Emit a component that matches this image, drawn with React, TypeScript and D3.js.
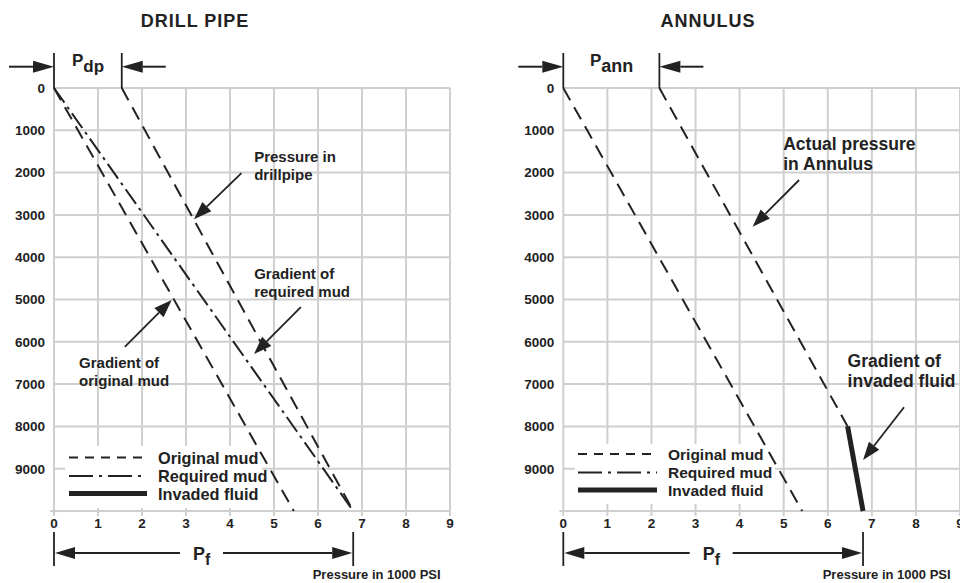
import React from 'react';
import * as d3 from 'd3';

// ---------- data ----------
const depthTicks = [0, 1000, 2000, 3000, 4000, 5000, 6000, 7000, 8000, 9000];
const depthMax = 10000;
const pressureTicks = [0, 1, 2, 3, 4, 5, 6, 7, 8, 9];
const legendLabels = ['Original mud', 'Required mud', 'Invaded fluid'];

// Drill pipe panel (pressure in 1000 psi, depth in ft)
const drillOriginalMud = [{ p: 0, d: 0 }, { p: 5.45, d: 10000 }];
const drillRequiredMud = [{ p: 0, d: 0 }, { p: 6.8, d: 10000 }];
const drillPipePressure = [{ p: 1.54, d: 0 }, { p: 6.8, d: 10000 }];
const drillSurface = 1.54; // Pdp
const drillBottom = 6.8; // Pf

// Annulus panel
const annOriginalMud = [{ p: 0, d: 0 }, { p: 5.42, d: 10000 }];
const annActualPressure = [{ p: 2.18, d: 0 }, { p: 6.45, d: 8000 }];
const annInvadedFluid = [{ p: 6.45, d: 8000 }, { p: 6.8, d: 10000 }];
const annSurface = 2.18; // Pann
const annBottom = 6.8; // Pf

// annotations: text lines at (p, d) baseline, arrow from (p,d) to tip (p,d)
const drillNotes = [
  { lines: ['Pressure in', 'drillpipe'], p: 4.55, d: 1760, from: [4.26, 2010], to: [3.18, 3100] },
  { lines: ['Gradient of', 'required mud'], p: 4.55, d: 4520, from: [5.61, 5180], to: [4.545, 6290] },
  { lines: ['Gradient of', 'original mud'], p: 0.57, d: 6630, from: [1.61, 6120], to: [2.675, 5010] },
];
const annNotes = [
  { lines: ['Actual pressure', 'in Annulus'], p: 4.99, d: 1466, from: [5.35, 2175], to: [4.295, 3280] },
  { lines: ['Gradient of', 'invaded fluid'], p: 6.45, d: 6590, from: [7.73, 7548], to: [6.8, 8794] },
];

const FONT = '"Liberation Sans", Arial, Helvetica, sans-serif';
const INK = '#222';
const GRID = '#cfcfcf';

const yScale = d3.scaleLinear().domain([0, depthMax]).range([88, 511]);

function head(tx: number, ty: number, fx: number, fy: number, L = 18, W = 6) {
  const a = Math.atan2(ty - fy, tx - fx);
  const bx = tx - L * Math.cos(a);
  const by = ty - L * Math.sin(a);
  const px = -Math.sin(a) * W;
  const py = Math.cos(a) * W;
  return { path: `M${tx},${ty}L${bx + px},${by + py}L${bx - px},${by - py}Z`, bx, by };
}

function Arrow({ x1, y1, x2, y2, L = 18, W = 6, sw = 2 }: any) {
  const h = head(x2, y2, x1, y1, L, W);
  return (
    <g>
      <line x1={x1} y1={y1} x2={h.bx} y2={h.by} stroke={INK} strokeWidth={sw} />
      <path d={h.path} fill={INK} />
    </g>
  );
}

type PanelProps = {
  xRange: [number, number];
  title: string;
  titleX: number;
  surfaceLabel: string;
  surfaceLabelDx: number;
  surfaceSubSize: number;
  surface: number;
  bottom: number;
  pfTextX: number;
  dashed: { p: number; d: number }[][];
  dashDot: { p: number; d: number }[][];
  solid: { p: number; d: number }[][];
  notes: any[];
  noteSize: number;
  noteLead: number;
  legendSize: number;
  legend: { x0: number; x1: number; tx: number; ys: number[]; tys: number[]; box: [number, number, number, number] };
  psiX: number;
};

function Panel(props: PanelProps) {
  const x = d3.scaleLinear().domain([0, 9]).range(props.xRange);
  const y = yScale;
  const line = d3
    .line<{ p: number; d: number }>()
    .x((v) => x(v.p))
    .y((v) => y(v.d));
  const x0 = x(0);
  const xs = x(props.surface);
  const xb = x(props.bottom);
  const lg = props.legend;
  return (
    <g fontFamily={FONT} fontWeight="bold" fill={INK}>
      <text x={props.titleX} y={27} textAnchor="middle" fontSize={18} letterSpacing={1}>
        {props.title}
      </text>
      {/* grid */}
      {pressureTicks.map((t) => (
        <line key={'v' + t} x1={x(t)} x2={x(t)} y1={y(0)} y2={y(depthMax) + 5} stroke={GRID} strokeWidth={2} />
      ))}
      {[...depthTicks, depthMax].map((t) => (
        <line key={'h' + t} x1={x(0) - (t === depthMax ? 4 : 0)} x2={x(9)} y1={y(t)} y2={y(t)} stroke={GRID} strokeWidth={2} />
      ))}
      {depthTicks.map((t) => (
        <text key={'yl' + t} x={x(0) - 9} y={y(t) + 4.8} textAnchor="end" fontSize={13.5}>
          {t}
        </text>
      ))}
      {pressureTicks.map((t) => (
        <text key={'xl' + t} x={x(t)} y={528} textAnchor="middle" fontSize={13.5}>
          {t}
        </text>
      ))}
      {/* legend box */}
      <rect x={lg.box[0]} y={lg.box[1]} width={lg.box[2]} height={lg.box[3]} fill="#fff" />
      {/* series */}
      {props.dashed.map((s, i) => (
        <path key={'d' + i} d={line(s) || ''} fill="none" stroke={INK} strokeWidth={2} strokeDasharray="14,8" />
      ))}
      {props.dashDot.map((s, i) => (
        <path key={'dd' + i} d={line(s) || ''} fill="none" stroke={INK} strokeWidth={2} strokeDasharray="18,5,3,5" />
      ))}
      {props.solid.map((s, i) => (
        <path key={'s' + i} d={line(s) || ''} fill="none" stroke={INK} strokeWidth={5} />
      ))}
      {/* legend */}
      <line x1={lg.x0} x2={lg.x1} y1={lg.ys[0]} y2={lg.ys[0]} stroke={INK} strokeWidth={2} strokeDasharray="9,7" />
      <line x1={lg.x0} x2={lg.x1} y1={lg.ys[1]} y2={lg.ys[1]} stroke={INK} strokeWidth={2} strokeDasharray="24,6,3,6" />
      <line x1={lg.x0} x2={lg.x1} y1={lg.ys[2]} y2={lg.ys[2]} stroke={INK} strokeWidth={5} />
      {legendLabels.map((l, i) => (
        <text key={l} x={lg.tx} y={lg.tys[i]} fontSize={props.legendSize}>
          {l}
        </text>
      ))}
      {/* annotations */}
      {props.notes.map((n, i) => (
        <g key={'n' + i}>
          {n.lines.map((l: string, j: number) => (
            <text key={j} x={x(n.p)} y={y(n.d) + j * props.noteLead} fontSize={props.noteSize}>
              {l}
            </text>
          ))}
          <Arrow x1={x(n.from[0])} y1={y(n.from[1])} x2={x(n.to[0])} y2={y(n.to[1])} L={18} W={6.5} sw={1.8} />
        </g>
      ))}
      {/* surface pressure marker */}
      <line x1={x0} x2={x0} y1={53} y2={y(0)} stroke={INK} strokeWidth={1.8} />
      <line x1={xs} x2={xs} y1={53} y2={y(0)} stroke={INK} strokeWidth={1.8} />
      <Arrow x1={x0 - 45} y1={66.7} x2={x0} y2={66.7} L={21} W={6} sw={2} />
      <Arrow x1={xs + 44} y1={66.7} x2={xs} y2={66.7} L={21} W={6} sw={2} />
      <text x={x0 + props.surfaceLabelDx} y={66} fontSize={17}>
        P<tspan dy={6} fontSize={props.surfaceSubSize}>{props.surfaceLabel}</tspan>
      </text>
      {/* bottom pressure marker */}
      <line x1={x0} x2={x0} y1={532} y2={566} stroke={INK} strokeWidth={1.8} />
      <line x1={xb} x2={xb} y1={532} y2={566} stroke={INK} strokeWidth={1.8} />
      <Arrow x1={props.pfTextX - 13} y1={553} x2={x0 + 1} y2={553} L={20} W={6} sw={2} />
      <Arrow x1={props.pfTextX + 30} y1={553} x2={xb - 1} y2={553} L={20} W={6} sw={2} />
      <text x={props.pfTextX} y={560} fontSize={18}>
        P<tspan dy={5} fontSize={16}>f</tspan>
      </text>
      <text x={props.psiX} y={579} fontSize={13}>
        Pressure in 1000 PSI
      </text>
    </g>
  );
}

export default function App() {
  return (
    <svg
      width={960}
      height={583}
      viewBox="0 0 960 583"
      style={{ position: 'absolute', left: 0, top: 0, background: '#fff' }}
    >
      <rect x={0} y={0} width={960} height={583} fill="#fff" />
      <Panel
        xRange={[54, 450]}
        title="DRILL PIPE"
        titleX={195}
        surfaceLabel="dp"
        surfaceLabelDx={18}
        surfaceSubSize={17}
        surface={drillSurface}
        bottom={drillBottom}
        pfTextX={193}
        dashed={[drillOriginalMud, drillPipePressure]}
        dashDot={[drillRequiredMud]}
        solid={[]}
        notes={drillNotes}
        noteSize={15}
        noteLead={18}
        legendSize={16.3}
        legend={{ x0: 69, x1: 147, tx: 158, ys: [457.5, 476, 493.5], tys: [463.5, 481.5, 499.5], box: [65, 446, 197, 62] }}
        psiX={312.7}
      />
      <Panel
        xRange={[563.3, 960]}
        title="ANNULUS"
        titleX={708}
        surfaceLabel="ann"
        surfaceLabelDx={26.7}
        surfaceSubSize={18}
        surface={annSurface}
        bottom={annBottom}
        pfTextX={702.7}
        dashed={[annOriginalMud, annActualPressure]}
        dashDot={[]}
        solid={[annInvadedFluid]}
        notes={annNotes}
        noteSize={17.5}
        noteLead={20}
        legendSize={15.5}
        legend={{ x0: 578, x1: 657, tx: 668, ys: [454, 472.5, 490], tys: [459.5, 478, 496], box: [575, 444, 200, 60] }}
        psiX={822.7}
      />
    </svg>
  );
}
